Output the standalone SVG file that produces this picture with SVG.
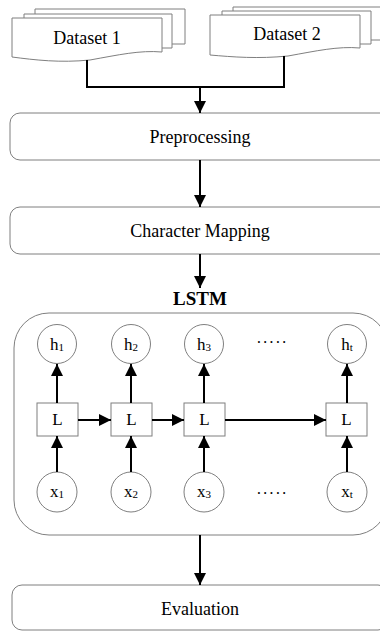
<svg xmlns="http://www.w3.org/2000/svg" width="380" height="632" viewBox="0 0 380 632">
<style>
.box{fill:#fff;stroke:#7f7f7f;stroke-width:1}
.doc{fill:#fff;stroke:#7f7f7f;stroke-width:1}
.t{font-family:"Liberation Serif",serif;font-size:18px;fill:#000;text-anchor:middle}
.n{font-family:"Liberation Serif",serif;font-size:17px;fill:#000;text-anchor:middle}
.c{fill:none;stroke:#000;stroke-width:2}
.dots{font-family:"Liberation Serif",serif;font-size:16px;fill:#000;text-anchor:middle;letter-spacing:1px}
</style>
<defs>
<marker id="ah" markerUnits="userSpaceOnUse" markerWidth="12" markerHeight="12" viewBox="0 0 12 12" refX="12" refY="6" orient="auto">
<path d="M0,0 L12,6 L0,12 Z" fill="#000"/>
</marker>
</defs>
<rect width="380" height="632" fill="#fff"/>

<g id="dataset1">
<path class="doc" d="M35,9 H185 V44 H35 Z"/>
<path class="doc" d="M24,14 H172 V48 H24 Z"/>
<path class="doc" d="M12,18 H162 V52 C140,50 118,55 90,60 C60,63 35,60 12,57 Z"/>
<text class="t" x="87" y="44">Dataset 1</text>
</g>

<g id="dataset2">
<path class="doc" d="M233,7 H392 V40 H233 Z"/>
<path class="doc" d="M222,11 H371 V44 H222 Z"/>
<path class="doc" d="M210,15 H360 V48 C338,46 316,51 288,56 C258,59 233,57 210,55 Z"/>
<text class="t" x="287" y="40">Dataset 2</text>
</g>

<g id="preprocessing">
<rect class="box" x="10" y="113" width="380" height="47" rx="10"/>
<text class="t" x="200" y="143">Preprocessing</text>
</g>

<g id="charmap">
<rect class="box" x="10" y="207" width="380" height="47" rx="10"/>
<text class="t" x="200" y="237">Character Mapping</text>
</g>

<g id="lstm">
<rect class="box" x="14" y="313" width="374" height="222" rx="35"/>
<text x="200" y="305" font-family="Liberation Serif, serif" font-size="19" font-weight="bold" text-anchor="middle">LSTM</text>
</g>

<g id="h1"><circle class="box" cx="57" cy="344" r="19.5"/><text class="n" x="57" y="350">h<tspan font-size="11" dy="1">1</tspan></text></g>
<g id="h2"><circle class="box" cx="131" cy="344" r="19.5"/><text class="n" x="131" y="350">h<tspan font-size="11" dy="1">2</tspan></text></g>
<g id="h3"><circle class="box" cx="204" cy="344" r="19.5"/><text class="n" x="204" y="350">h<tspan font-size="11" dy="1">3</tspan></text></g>
<g id="ht"><circle class="box" cx="347" cy="344" r="19.5"/><text class="n" x="347" y="350">h<tspan font-size="11" dy="1">t</tspan></text></g>
<g id="hdots"><text class="dots" x="272" y="348">·····</text></g>

<g id="L1"><rect class="box" x="37" y="403" width="41" height="33"/><text class="n" x="57.5" y="425">L</text></g>
<g id="L2"><rect class="box" x="111" y="403" width="41" height="33"/><text class="n" x="131.5" y="425">L</text></g>
<g id="L3"><rect class="box" x="184" y="403" width="41" height="33"/><text class="n" x="204.5" y="425">L</text></g>
<g id="Lt"><rect class="box" x="326" y="403" width="41" height="33"/><text class="n" x="346.5" y="425">L</text></g>

<g id="x1"><circle class="box" cx="57" cy="492" r="20"/><text class="n" x="57" y="497">x<tspan font-size="11" dy="1">1</tspan></text></g>
<g id="x2"><circle class="box" cx="131" cy="492" r="20"/><text class="n" x="131" y="497">x<tspan font-size="11" dy="1">2</tspan></text></g>
<g id="x3"><circle class="box" cx="204" cy="492" r="20"/><text class="n" x="204" y="497">x<tspan font-size="11" dy="1">3</tspan></text></g>
<g id="xt"><circle class="box" cx="347" cy="492" r="20"/><text class="n" x="347" y="497">x<tspan font-size="11" dy="1">t</tspan></text></g>
<g id="xdots"><text class="dots" x="272" y="499">·····</text></g>

<g id="evaluation">
<rect class="box" x="12" y="585" width="376" height="45" rx="10"/>
<text class="t" x="200" y="615">Evaluation</text>
</g>

<g id="connectors">
<path class="c" d="M87,60 V87 H284 V56"/>
<path class="c" d="M200,87 V113" marker-end="url(#ah)"/>
<path class="c" d="M200,160 V207" marker-end="url(#ah)"/>
<path class="c" d="M200,254 V288" marker-end="url(#ah)"/>
<path class="c" d="M57,403 V364" marker-end="url(#ah)"/>
<path class="c" d="M131,403 V364" marker-end="url(#ah)"/>
<path class="c" d="M204,403 V364" marker-end="url(#ah)"/>
<path class="c" d="M347,403 V364" marker-end="url(#ah)"/>
<path class="c" d="M78,420 H111" marker-end="url(#ah)"/>
<path class="c" d="M152,420 H184" marker-end="url(#ah)"/>
<path class="c" d="M225,420 H326" marker-end="url(#ah)"/>
<path class="c" d="M57,472 V436" marker-end="url(#ah)"/>
<path class="c" d="M131,472 V436" marker-end="url(#ah)"/>
<path class="c" d="M204,472 V436" marker-end="url(#ah)"/>
<path class="c" d="M347,472 V436" marker-end="url(#ah)"/>
<path class="c" d="M200,535 V585" marker-end="url(#ah)"/>
</g>
</svg>
